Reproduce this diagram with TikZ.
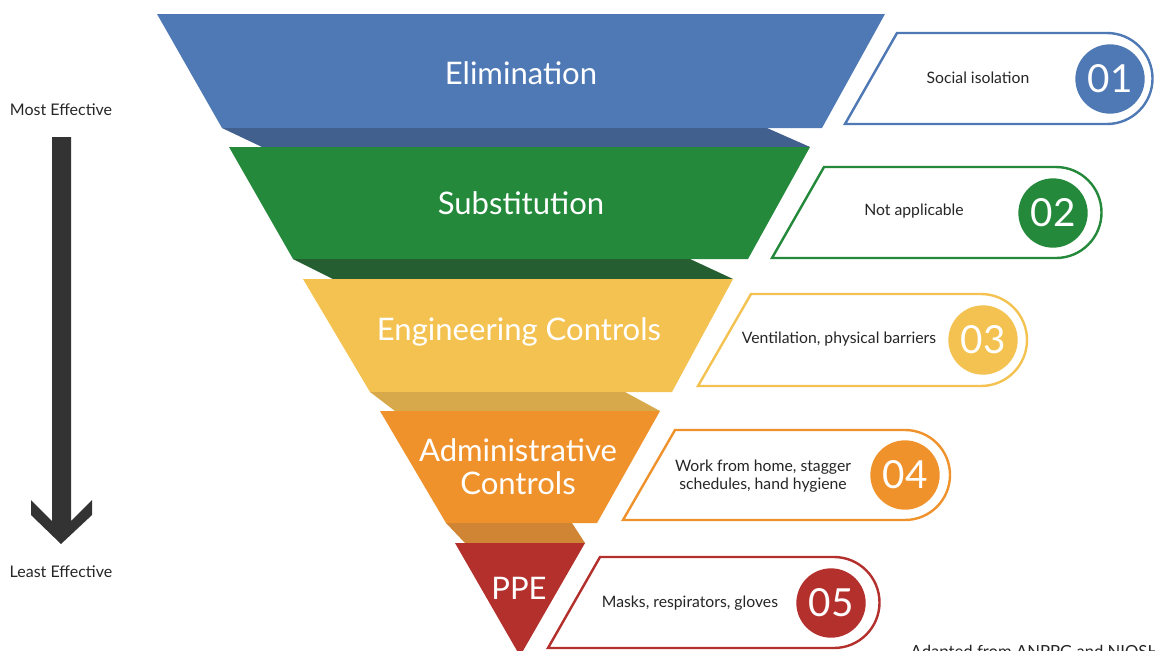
\documentclass[tikz,border=0pt]{standalone}
\usepackage{fontspec}
\setmainfont{Lato}
\definecolor{elimblue}{HTML}{4E79B4}
\definecolor{elimshade}{HTML}{41608E}
\definecolor{substgreen}{HTML}{24893A}
\definecolor{substshade}{HTML}{255E31}
\definecolor{engyellow}{HTML}{F4C250}
\definecolor{engshade}{HTML}{D7A94A}
\definecolor{adminorange}{HTML}{F0922C}
\definecolor{adminshade}{HTML}{CF8533}
\definecolor{ppered}{HTML}{B3302D}
\definecolor{arrowgray}{HTML}{333333}
\definecolor{darktext}{HTML}{262626}
\begin{document}
\begin{tikzpicture}[x=0.75pt, y=-0.75pt,
    bigtext/.style={text=white, font=\fontsize{23.3}{25}\selectfont, align=center},
    tabline/.style={line width=1.8pt, fill=white},
    tabtext/.style={text=darktext, font=\fontsize{11.8}{13.5}\selectfont, align=center},
    numcirc/.style={circle, minimum size=52pt, inner sep=0pt, text=white, font=\fontsize{29}{29}\selectfont},
    sidetext/.style={text=darktext, font=\fontsize{12}{13}\selectfont}]
    \useasboundingbox (0,0) rectangle (1155,650);

    % Funnel layers and their shadows
    \fill[elimblue] (157,14) -- (885,14) -- (822,128) -- (222,128) -- cycle;
    \fill[elimshade] (222,128) -- (767,128) -- (810,147) -- (262,147) -- cycle;
    \fill[substgreen] (229,147) -- (810,147) -- (748,259) -- (293,259) -- cycle;
    \fill[substshade] (293,259) -- (690,259) -- (733,279) -- (333,279) -- cycle;
    \fill[engyellow] (303,279) -- (733,279) -- (672,392) -- (370,392) -- cycle;
    \fill[engshade] (370,392) -- (625,392) -- (660,411) -- (395,411) -- cycle;
    \fill[adminorange] (380,411) -- (660,411) -- (597,523) -- (446,523) -- cycle;
    \fill[adminshade] (446,523) -- (572,523) -- (585,543) -- (465,543) -- cycle;
    \fill[ppered] (455,543) -- (585,543) -- (520,656) -- cycle;

    % Layer labels
    \node[bigtext] (elim) at (521,73) {Elimination};
    \node[bigtext] (subst) at (521,203) {Substitution};
    \node[bigtext] (eng) at (519,332) {Engineering Controls};
    \node[bigtext] (admin) at (518,467) {Administrative\\Controls};
    \node[bigtext] (ppe) at (519,588) {PPE};

    % Tabs on the right
    \draw[tabline, draw=elimblue] (845,124) -- (897,33) -- (1107,33) arc[start angle=-90, end angle=90, radius=45.5] -- cycle;
    \draw[tabline, draw=substgreen] (772,258) -- (824,167) -- (1056,167) arc[start angle=-90, end angle=90, radius=45.5] -- cycle;
    \draw[tabline, draw=engyellow] (698,386) -- (751,294) -- (981,294) arc[start angle=-90, end angle=90, radius=46] -- cycle;
    \draw[tabline, draw=adminorange] (623,520) -- (675,430) -- (905,430) arc[start angle=-90, end angle=90, radius=45] -- cycle;
    \draw[tabline, draw=ppered] (548,648) -- (600,557) -- (834,557) arc[start angle=-90, end angle=90, radius=45.5] -- cycle;

    % Numbers
    \node[numcirc, fill=elimblue] (num1) at (1110,79) {01};
    \node[numcirc, fill=substgreen] (num2) at (1053,213) {02};
    \node[numcirc, fill=engyellow] (num3) at (983,340) {03};
    \node[numcirc, fill=adminorange] (num4) at (905,475) {04};
    \node[numcirc, fill=ppered] (num5) at (831,603) {05};

    % Tab texts
    \node[tabtext] (isol) at (978,78) {Social isolation};
    \node[tabtext] (notapp) at (914,211) {Not applicable};
    \node[tabtext] (vent) at (839,339) {Ventilation, physical barriers};
    \node[tabtext] (home) at (763,476) {Work from home, stagger\\schedules, hand hygiene};
    \node[tabtext] (masks) at (690,603) {Masks, respirators, gloves};

    % Effectiveness arrow
    \node[sidetext] (most) at (61,110) {Most Effective};
    \node[sidetext] (least) at (61,572) {Least Effective};
    \fill[arrowgray] (52,137) -- (71,137) -- (71,521) -- (92,500) -- (92,515) -- (61,544) -- (31,515) -- (31,500) -- (52,521) -- cycle;

    % Source
    \node[sidetext, anchor=base west, font=\fontsize{12.5}{13}\selectfont] (source) at (906,657) {Adapted from ANPPG and NIOSH};
\end{tikzpicture}
\end{document}
